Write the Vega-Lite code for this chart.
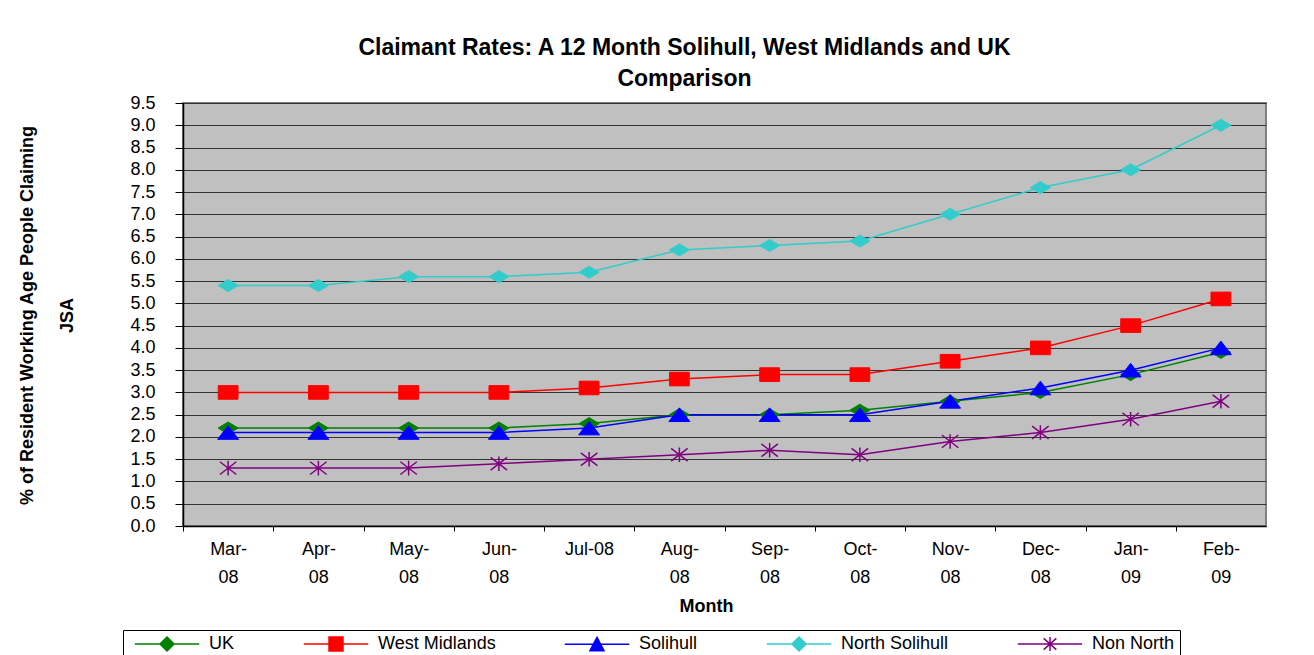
{
  "$schema": "https://vega.github.io/schema/vega-lite/v6.json",
  "width": 1083,
  "height": 423,
  "autosize": {"type": "none"},
  "padding": {"left": 183, "top": 103, "right": 48, "bottom": 129},
  "background": "white",
  "title": {
    "text": ["Claimant Rates: A 12 Month Solihull, West Midlands and UK", "Comparison"],
    "font": "Liberation Sans",
    "fontSize": 23,
    "fontWeight": "bold",
    "color": "black",
    "anchor": "middle",
    "frame": "group",
    "dx": -40,
    "offset": 3,
    "lineHeight": 31
  },
  "data": {
    "values": [
      {"month": "Mar-08", "series": "UK", "value": 2.2},
      {"month": "Apr-08", "series": "UK", "value": 2.2},
      {"month": "May-08", "series": "UK", "value": 2.2},
      {"month": "Jun-08", "series": "UK", "value": 2.2},
      {"month": "Jul-08", "series": "UK", "value": 2.3},
      {"month": "Aug-08", "series": "UK", "value": 2.5},
      {"month": "Sep-08", "series": "UK", "value": 2.5},
      {"month": "Oct-08", "series": "UK", "value": 2.6},
      {"month": "Nov-08", "series": "UK", "value": 2.8},
      {"month": "Dec-08", "series": "UK", "value": 3.0},
      {"month": "Jan-09", "series": "UK", "value": 3.4},
      {"month": "Feb-09", "series": "UK", "value": 3.9},
      {"month": "Mar-08", "series": "West Midlands", "value": 3.0},
      {"month": "Apr-08", "series": "West Midlands", "value": 3.0},
      {"month": "May-08", "series": "West Midlands", "value": 3.0},
      {"month": "Jun-08", "series": "West Midlands", "value": 3.0},
      {"month": "Jul-08", "series": "West Midlands", "value": 3.1},
      {"month": "Aug-08", "series": "West Midlands", "value": 3.3},
      {"month": "Sep-08", "series": "West Midlands", "value": 3.4},
      {"month": "Oct-08", "series": "West Midlands", "value": 3.4},
      {"month": "Nov-08", "series": "West Midlands", "value": 3.7},
      {"month": "Dec-08", "series": "West Midlands", "value": 4.0},
      {"month": "Jan-09", "series": "West Midlands", "value": 4.5},
      {"month": "Feb-09", "series": "West Midlands", "value": 5.1},
      {"month": "Mar-08", "series": "Solihull", "value": 2.1},
      {"month": "Apr-08", "series": "Solihull", "value": 2.1},
      {"month": "May-08", "series": "Solihull", "value": 2.1},
      {"month": "Jun-08", "series": "Solihull", "value": 2.1},
      {"month": "Jul-08", "series": "Solihull", "value": 2.2},
      {"month": "Aug-08", "series": "Solihull", "value": 2.5},
      {"month": "Sep-08", "series": "Solihull", "value": 2.5},
      {"month": "Oct-08", "series": "Solihull", "value": 2.5},
      {"month": "Nov-08", "series": "Solihull", "value": 2.8},
      {"month": "Dec-08", "series": "Solihull", "value": 3.1},
      {"month": "Jan-09", "series": "Solihull", "value": 3.5},
      {"month": "Feb-09", "series": "Solihull", "value": 4.0},
      {"month": "Mar-08", "series": "North Solihull", "value": 5.4},
      {"month": "Apr-08", "series": "North Solihull", "value": 5.4},
      {"month": "May-08", "series": "North Solihull", "value": 5.6},
      {"month": "Jun-08", "series": "North Solihull", "value": 5.6},
      {"month": "Jul-08", "series": "North Solihull", "value": 5.7},
      {"month": "Aug-08", "series": "North Solihull", "value": 6.2},
      {"month": "Sep-08", "series": "North Solihull", "value": 6.3},
      {"month": "Oct-08", "series": "North Solihull", "value": 6.4},
      {"month": "Nov-08", "series": "North Solihull", "value": 7.0},
      {"month": "Dec-08", "series": "North Solihull", "value": 7.6},
      {"month": "Jan-09", "series": "North Solihull", "value": 8.0},
      {"month": "Feb-09", "series": "North Solihull", "value": 9.0},
      {"month": "Mar-08", "series": "Non North", "value": 1.3},
      {"month": "Apr-08", "series": "Non North", "value": 1.3},
      {"month": "May-08", "series": "Non North", "value": 1.3},
      {"month": "Jun-08", "series": "Non North", "value": 1.4},
      {"month": "Jul-08", "series": "Non North", "value": 1.5},
      {"month": "Aug-08", "series": "Non North", "value": 1.6},
      {"month": "Sep-08", "series": "Non North", "value": 1.7},
      {"month": "Oct-08", "series": "Non North", "value": 1.6},
      {"month": "Nov-08", "series": "Non North", "value": 1.9},
      {"month": "Dec-08", "series": "Non North", "value": 2.1},
      {"month": "Jan-09", "series": "Non North", "value": 2.4},
      {"month": "Feb-09", "series": "Non North", "value": 2.8}
    ]
  },
  "encoding": {
    "x": {
      "field": "month",
      "type": "ordinal",
      "sort": null,
      "scale": {"type": "point", "padding": 0.5},
      "axis": {
        "title": "Month",
        "titleFont": "Liberation Sans",
        "titleFontSize": 18,
        "titleFontWeight": "bold",
        "titleColor": "black",
        "titleX": 523,
        "titleY": 80,
        "titleBaseline": "middle",
        "labelAngle": 0,
        "labelFont": "Liberation Sans",
        "labelFontSize": 18,
        "labelColor": "black",
        "labelBaseline": "top",
        "labelLineHeight": 28,
        "labelPadding": 9,
        "labelExpr": "datum.value === 'Jul-08' ? datum.value : [slice(datum.value, 0, 4), slice(datum.value, 4)]",
        "tickOffset": -45.1,
        "labelOffset": 45.1,
        "tickSize": 5,
        "tickColor": "black",
        "domainColor": "black",
        "domainWidth": 1.5,
        "grid": false
      }
    },
    "y": {
      "field": "value",
      "type": "quantitative",
      "scale": {"domain": [0, 9.5], "nice": false, "zero": true},
      "axis": {
        "title": ["% of Resident Working Age People Claiming", "JSA"],
        "titleFont": "Liberation Sans",
        "titleFontSize": 18,
        "titleFontWeight": "bold",
        "titleColor": "black",
        "titleAngle": -90,
        "titleX": -165,
        "titleY": 212,
        "titleAlign": "center",
        "titleBaseline": "top",
        "titleLineHeight": 40,
        "values": [0, 0.5, 1, 1.5, 2, 2.5, 3, 3.5, 4, 4.5, 5, 5.5, 6, 6.5, 7, 7.5, 8, 8.5, 9, 9.5],
        "format": ".1f",
        "labelFont": "Liberation Sans",
        "labelFontSize": 18,
        "labelColor": "black",
        "labelPadding": 20,
        "tickSize": 8,
        "tickColor": "black",
        "domainColor": "black",
        "domainWidth": 1.5,
        "grid": true,
        "gridColor": "#333333",
        "gridWidth": 1,
        "gridOpacity": 1
      }
    }
  },
  "layer": [
    {
      "mark": {"type": "line", "strokeWidth": 1.5},
      "encoding": {
        "color": {
          "field": "series",
          "type": "nominal",
          "scale": {
            "domain": ["UK", "West Midlands", "Solihull", "North Solihull", "Non North"],
            "range": ["#008000", "#FF0000", "#0000FF", "#33CCCC", "#800080"]
          },
          "legend": {
            "title": null,
            "orient": "none",
            "direction": "horizontal",
            "columns": 5,
            "legendX": -60,
            "legendY": 527,
            "padding": 5,
            "strokeColor": "black",
            "fillColor": "white",
            "columnPadding": 62,
            "symbolSize": 196,
            "symbolStrokeWidth": 1.5,
            "symbolOffset": 30,
            "labelOffset": 33,
            "labelFont": "Liberation Sans",
            "labelFontSize": 18,
            "labelColor": "black",
            "encode": {
              "symbols": {
                "update": {
                  "shape": {"signal": "datum.value === 'West Midlands' ? 'M-4.6,0L4.6,0M-1,-1L1,-1L1,1L-1,1Z' : datum.value === 'Solihull' ? 'M-4.6,0L4.6,0M-1,0.9L0,-1L1,0.9Z' : datum.value === 'Non North' ? 'M-4.6,0L4.6,0M0,-1L0,1M-0.9,-0.8L0.9,0.8M-0.9,0.8L0.9,-0.8' : 'M-4.6,0L4.6,0M-1,0L0,-1L1,0L0,1Z'"},
                  "fill": {"signal": "datum.value === 'UK' ? '#008000' : datum.value === 'West Midlands' ? '#FF0000' : datum.value === 'Solihull' ? '#0000FF' : datum.value === 'North Solihull' ? '#33CCCC' : '#800080'"},
                  "stroke": {"signal": "datum.value === 'UK' ? '#008000' : datum.value === 'West Midlands' ? '#FF0000' : datum.value === 'Solihull' ? '#0000FF' : datum.value === 'North Solihull' ? '#33CCCC' : '#800080'"},
                  "strokeWidth": {"value": 1.5},
                  "opacity": {"value": 1}
                }
              }
            }
          }
        }
      }
    },
    {
      "transform": [{"filter": "datum.series === 'UK'"}],
      "mark": {"type": "point", "shape": "M-0.91,0L0,-0.55L0.91,0L0,0.55Z", "filled": true, "fill": "#008000", "stroke": "#008000", "opacity": 1, "size": 484, "strokeWidth": 1}
    },
    {
      "transform": [{"filter": "datum.series === 'West Midlands'"}],
      "mark": {"type": "point", "shape": "M-0.9,-0.62L0.9,-0.62L0.9,0.62L-0.9,0.62Z", "filled": true, "fill": "#FF0000", "stroke": "#FF0000", "opacity": 1, "size": 484, "strokeWidth": 1}
    },
    {
      "transform": [{"filter": "datum.series === 'Solihull'"}],
      "mark": {"type": "point", "shape": "M-0.95,0.62L0,-0.62L0.95,0.62Z", "filled": true, "fill": "#0000FF", "stroke": "#0000FF", "opacity": 1, "size": 484, "strokeWidth": 1}
    },
    {
      "transform": [{"filter": "datum.series === 'North Solihull'"}],
      "mark": {"type": "point", "shape": "M-0.91,0L0,-0.55L0.91,0L0,0.55Z", "filled": true, "fill": "#33CCCC", "stroke": "#33CCCC", "opacity": 1, "size": 484, "strokeWidth": 1}
    },
    {
      "transform": [{"filter": "datum.series === 'Non North'"}],
      "mark": {"type": "point", "shape": "M0,-0.66L0,0.66M-0.75,-0.58L0.75,0.58M-0.75,0.58L0.75,-0.58", "filled": false, "stroke": "#800080", "opacity": 1, "size": 484, "strokeWidth": 1.5}
    }
  ],
  "config": {
    "font": "Liberation Sans",
    "view": {"fill": "#C0C0C0", "stroke": "#808080", "strokeWidth": 2}
  }
}
